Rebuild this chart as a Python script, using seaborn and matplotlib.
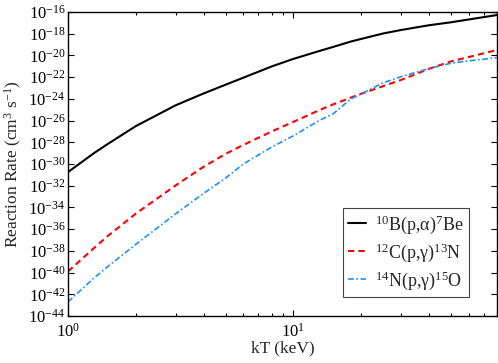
import numpy as np
import pandas as pd
import matplotlib
matplotlib.use("Agg")
import matplotlib.pyplot as plt
import matplotlib.ticker as mticker
import seaborn as sns

# kT grid (keV) and log10 of the reaction rates
kt = [1, 1.3, 1.5, 2, 3, 4, 5, 6, 8, 10, 13, 15, 18, 20, 25, 30, 40, 50, 60, 70, 80]
log_b10 = [-30.75, -29.02, -28.16, -26.51, -24.60, -23.50, -22.70, -22.05, -21.02, -20.32,
           -19.60, -19.22, -18.72, -18.48, -17.98, -17.66, -17.22, -16.95, -16.69, -16.47, -16.28]
log_c12 = [-39.90, -37.77, -36.64, -34.57, -31.98, -30.25, -29.07, -28.24, -27.01, -26.12,
           -25.05, -24.51, -23.88, -23.53, -22.83, -22.26, -21.23, -20.55, -20.15, -19.80, -19.50]
log_n14 = [-42.70, -40.53, -39.45, -37.40, -34.60, -32.70, -31.30, -30.00, -28.45, -27.40,
           -26.00, -25.38, -24.00, -23.55, -22.52, -21.96, -21.20, -20.72, -20.50, -20.35, -20.20]

labels = [r"$^{10}$B(p,α)$^{7}$Be", r"$^{12}$C(p,γ)$^{13}$N", r"$^{14}$N(p,γ)$^{15}$O"]
colors = ["black", "#ff0000", "#1e90ff"]

sns.set_theme(style="ticks")
plt.rcParams["font.family"] = ["Liberation Serif", "DejaVu Serif"]
plt.rcParams["mathtext.fontset"] = "custom"
plt.rcParams["mathtext.rm"] = "Liberation Serif"
plt.rcParams["mathtext.it"] = "Liberation Serif:italic"
plt.rcParams["mathtext.bf"] = "Liberation Serif:bold"
plt.rcParams["axes.unicode_minus"] = True

fig, ax = plt.subplots(figsize=(4.98, 3.63), dpi=100)
fig.subplots_adjust(left=0.1365, right=0.998, bottom=0.1295, top=0.967)

series = [log_b10, log_c12, log_n14]
dash_styles = [None, (3, 2), (3.5, 1.5, 1, 1.5)]
widths = [1.5, 1.5, 1.2]
for vals, lab, col, ds, lw in zip(series, labels, colors, dash_styles, widths):
    df = pd.DataFrame({"kT": kt, "rate": 10.0 ** np.array(vals)})
    sns.lineplot(data=df, x="kT", y="rate", ax=ax, color=col, lw=lw, label=lab)
    if ds is not None:
        ax.lines[-1].set_dashes(ds)

ax.set_xscale("log")
ax.set_yscale("log")
ax.set_xlim(1, 80)
ax.set_ylim(1e-44, 1e-16)
ax.set_yticks(10.0 ** np.arange(-44, -15, 2))
ax.yaxis.set_minor_locator(mticker.NullLocator())
ax.xaxis.set_minor_formatter(mticker.NullFormatter())

ax.tick_params(which="both", direction="in", top=True, right=True, labelsize=12,
               colors="black", width=0.8)
ax.tick_params(which="major", length=4.5)
ax.tick_params(which="minor", length=2.5)
ax.tick_params(axis="y", pad=2)
ax.tick_params(axis="x", pad=5)
for sp in ax.spines.values():
    sp.set_linewidth(1.0)
    sp.set_color("black")

ax.set_xlabel("kT (keV)", fontsize=12.5, labelpad=0)
ax.set_ylabel(r"Reaction Rate (cm$^{3}$ s$^{-1}$)", fontsize=12.5, labelpad=3)

leg = ax.legend(loc="upper left", bbox_to_anchor=(342.7 / 498, 1 - 207.7 / 363),
                bbox_transform=fig.transFigure, borderaxespad=0, fontsize=13,
                frameon=True, fancybox=False, framealpha=1, edgecolor="#444444",
                handlelength=1.0, handletextpad=0.5, borderpad=0.3, labelspacing=0.3)
leg.get_frame().set_linewidth(0.8)

fig.savefig("out.png", dpi=100)
